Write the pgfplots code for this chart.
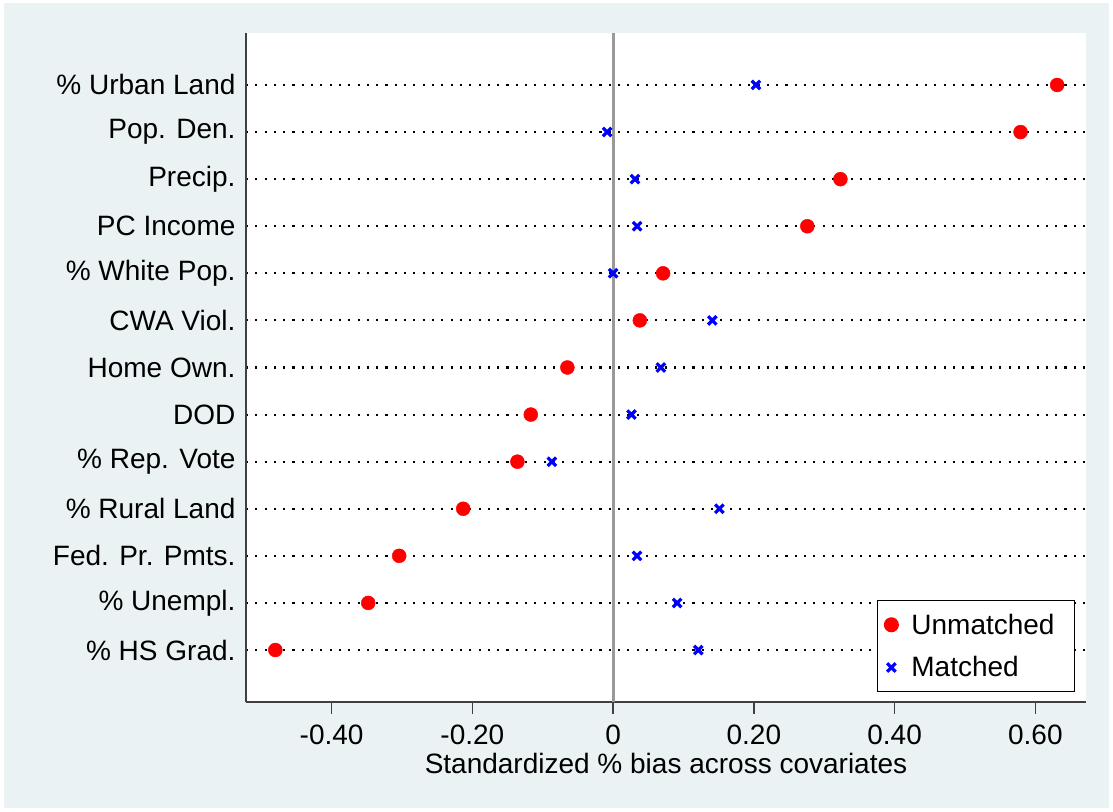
\documentclass[border=0pt]{standalone}
\usepackage{fontspec}
\setmainfont{Liberation Sans}
\usepackage{pgfplots}
\pgfplotsset{compat=1.18}
\definecolor{statabg}{RGB}{234,242,243}
\newcommand{\lbl}{\fontsize{28}{32}\selectfont}

\begin{document}
\begin{tikzpicture}
% outer frame and graph region
\fill[white] (-246pt,-109pt) rectangle (867pt,702pt);
\fill[statabg] (-242pt,-106pt) rectangle (863pt,699pt);
\begin{axis}[
  at={(0,0)}, anchor=south west,
  scale only axis, width=840pt, height=669pt,
  xmin=-0.5217, xmax=0.672, ymin=-0.104, ymax=14.104,
  axis x line*=bottom, axis y line*=left,
  axis line style={line width=1.3pt, color=black!75},
  axis background/.style={fill=white},
  xtick={-0.4,-0.2,0,0.2,0.4,0.6},
  xticklabels={-0.40,-0.20,0,0.20,0.40,0.60},
  ytick={1,...,13},
  yticklabels={\% HS Grad., \% Unempl., Fed. Pr. Pmts., \% Rural Land, \% Rep. Vote, DOD, Home Own., CWA Viol., \% White Pop., PC Income, Precip., Pop. Den., \% Urban Land},
  tick align=outside,
  major tick length=12pt,
  xtick style={line width=1.3pt, color=black!75},
  ytick style={draw=none},
  ticklabel style={font=\lbl},
  xticklabel style={yshift=-7pt},
  yticklabel style={xshift=5pt},
  ymajorgrids,
  major grid style={black, line width=2.1pt, dash pattern=on 2.1pt off 7.2pt},
  xlabel={Standardized \% bias across covariates},
  xlabel style={font=\lbl, yshift=-2pt},
  legend style={at={(rel axis cs:0.987,0.015)}, anchor=south east,
    draw=black, line width=1pt, font=\lbl, row sep=17pt,
    inner xsep=7pt, inner ysep=11pt,
    nodes={inner xsep=13pt, inner ysep=2pt}},
  legend cell align=left,
]
\addplot[forget plot, color=black!40, line width=3pt] coordinates {(0,-0.104) (0,14.104)};
\addplot[only marks, mark=*, mark size=7pt, color=red] coordinates {
  (-0.480,1) (-0.348,2) (-0.304,3) (-0.213,4) (-0.136,5) (-0.117,6) (-0.065,7)
  (0.038,8) (0.071,9) (0.276,10) (0.323,11) (0.579,12) (0.631,13)};
\addlegendentry{Unmatched}
\addplot[only marks, mark=x, mark size=6pt, color=blue, mark options={line width=3.2pt}] coordinates {
  (0.121,1) (0.091,2) (0.034,3) (0.151,4) (-0.087,5) (0.026,6) (0.068,7)
  (0.141,8) (0.000,9) (0.034,10) (0.031,11) (-0.0085,12) (0.203,13)};
\addlegendentry{Matched}
\end{axis}
\end{tikzpicture}
\end{document}
